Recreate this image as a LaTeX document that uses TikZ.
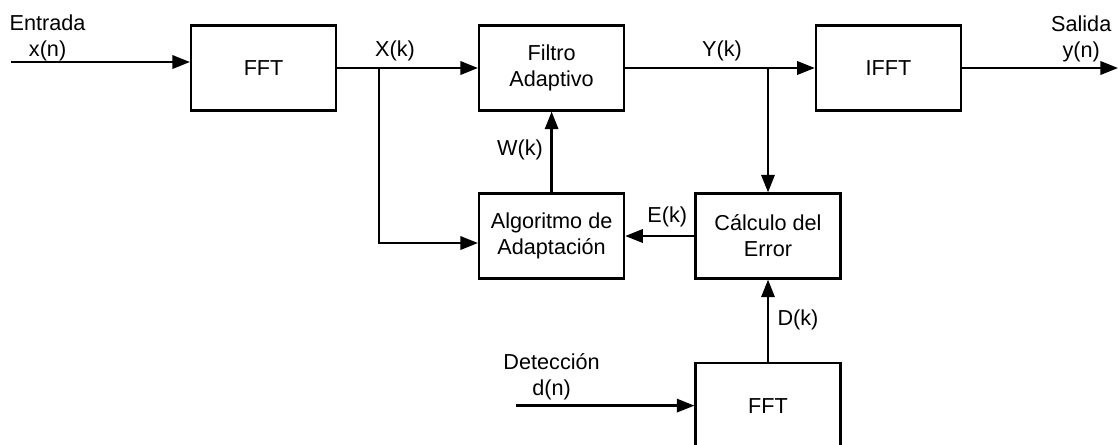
\documentclass[tikz,border=0pt]{standalone}
\usepackage{fontspec}
\setmainfont{Liberation Sans}
\usetikzlibrary{calc,positioning,arrows.meta}

\begin{document}
\begin{tikzpicture}[
    font=\fontsize{15.4pt}{18.5pt}\selectfont,
    block/.style={draw, line width=1.6pt, minimum width=3.625cm,
                  minimum height=2.125cm, inner sep=0pt, align=center},
    flow/.style={line width=1.6pt, -{Triangle[length=12.5pt, width=9.5pt]}},
    sig/.style={inner sep=0pt, align=center}
  ]
  \useasboundingbox (0,0) rectangle (27.95,-11.1);

  % Blocks
  \node[block] (fft1)   at (6.59,-1.7)   {FFT};
  \node[block] (filtro) at (13.79,-1.7)  {Filtro\\Adaptivo};
  \node[block] (ifft)   at (22.21,-1.7)  {IFFT};
  \node[block] (algo)   at (13.79,-5.9)  {Algoritmo de\\Adaptación};
  \node[block] (calc)   at (19.2,-5.9)   {Cálculo del\\Error};
  \node[block] (fft2)   at (19.2,-10.14) {FFT};

  % Free ends and branch points
  \coordinate (xin)  at (0.275,-1.55);
  \coordinate (yout) at (27.95,-1.7);
  \coordinate (din)  at (12.9,-10.14);
  \coordinate (xk)   at (9.475,-1.7);
  \coordinate (yk)   at (calc.north |- filtro.east);

  % Main path
  \draw[flow] (xin) -- (xin -| fft1.west);
  \draw[flow] (fft1.east) -- (filtro.west);
  \draw[flow] (filtro.east) -- (ifft.west);
  \draw[flow] (ifft.east) -- (yout);

  % Adaptation loop
  \draw[flow] (xk) |- ($(algo.west)+(0,-0.175)$);
  \draw[flow] (algo.north) -- (filtro.south);
  \draw[flow] (yk) -- (calc.north);
  \draw[flow] (calc.west) -- (algo.east);
  \draw[flow] (fft2.north) -- (calc.south);
  \draw[flow] (din) -- (fft2.west);

  % Signal labels
  \node[sig, anchor=north] (entrada)   at (1.19,-0.375) {Entrada\\x(n)};
  \node[sig, anchor=north] (salida)    at (27.03,-0.4)  {Salida\\y(n)};
  \node[sig, anchor=north] (deteccion) at (13.79,-8.82) {Detección\\d(n)};
  \node[sig, anchor=base] (xklbl) at (9.875,-1.4)  {X(k)};
  \node[sig, anchor=base] (yklbl) at (18.05,-1.4)  {Y(k)};
  \node[sig, anchor=base] (wklbl) at (13.0,-3.875) {W(k)};
  \node[sig, anchor=base] (eklbl) at (16.68,-5.57) {E(k)};
  \node[sig, anchor=base] (dklbl) at (19.95,-8.125) {D(k)};
\end{tikzpicture}
\end{document}
